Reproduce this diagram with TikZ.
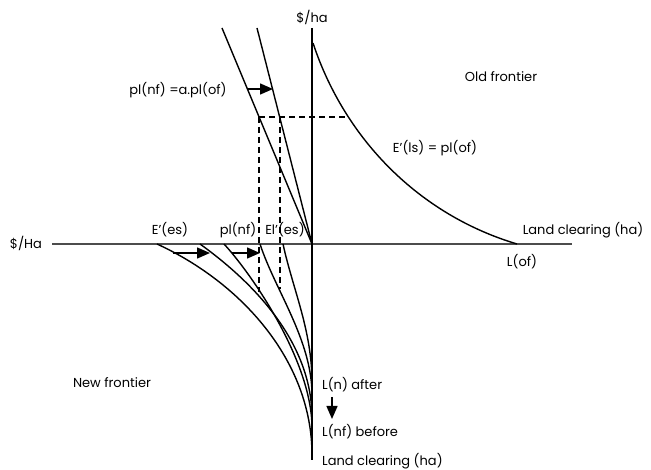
\documentclass[tikz,border=0pt]{standalone}
\usepackage{fontspec}
\setmainfont{Poppins}
\usetikzlibrary{arrows.meta}
\begin{document}
\begin{tikzpicture}[x=1pt,y=-1pt,
  font=\fontsize{13}{15}\selectfont,
  axis/.style={line width=1.5pt, draw=black!70},
  curve/.style={line width=1.4pt},
  guide/.style={line width=1.1pt, dash pattern=on 6pt off 4pt},
  shiftarrow/.style={line width=1.4pt, -{Triangle[length=13pt,width=11pt]}},
  lbl/.style={inner sep=0pt}]
\useasboundingbox (0,0) rectangle (651,470);
% axes
\coordinate (O) at (312,244);
\coordinate (ytop) at (312,28);
\coordinate (ybot) at (312,460);
\coordinate (xl) at (52,244);
\coordinate (xr) at (572,244);
\draw[axis] (xl) -- (xr);
\draw[axis, draw=black] (ytop) -- (ybot);
% upper straight lines
\coordinate (l1) at (222,28);
\coordinate (l2) at (257,28);
\draw[curve] (l1) -- (O);
\draw[curve] (l2) -- (O);
% old frontier curve
\coordinate (of0) at (313,43);
\coordinate (of1) at (517,244);
\draw[curve] (of0) .. controls (345,140) and (420,215) .. (of1);
% dashed guides
\coordinate (g1) at (259,117);
\coordinate (g2) at (280,117);
\coordinate (g3) at (347,117);
\coordinate (g1b) at (259,292);
\coordinate (g2b) at (280,289);
\draw[guide] (g1) -- (g3);
\draw[guide] (g1) -- (g1b);
\draw[guide] (g2) -- (g2b);
% lower curves
\draw[curve] (157,244) .. controls (240,282) and (312,360) .. (312,455);
\draw[curve] (200,244) .. controls (250,280) and (312,340) .. (312,418);
\draw[curve] (224,244) .. controls (250,272) and (312,360) .. (312,428);
\draw[curve] (260,244) .. controls (275,290) and (312,340) .. (312,395);
\draw[curve] (283,244) .. controls (293,290) and (312,330) .. (312,383);
% shift arrows
\coordinate (a1s) at (247,89);  \coordinate (a1e) at (273,89);
\coordinate (a2s) at (173,253); \coordinate (a2e) at (210,253);
\coordinate (a3s) at (232,253); \coordinate (a3e) at (260,253);
\coordinate (a4s) at (332,397); \coordinate (a4e) at (332,419);
\draw[shiftarrow] (a1s) -- (a1e);
\draw[shiftarrow] (a2s) -- (a2e);
\draw[shiftarrow] (a3s) -- (a3e);
\draw[shiftarrow] (a4s) -- (a4e);
% labels
\node[lbl] (tya) at (312,17) {\$/ha};
\node[lbl] (txa) at (26,243) {\$/Ha};
\node[lbl] (told) at (501,77) {Old frontier};
\node[lbl] (tpl) at (178,90) {pl(nf) =a.pl(of)};
\node[lbl] (tels) at (435,148) {E’(ls) = pl(of)};
\node[lbl] (tlc1) at (583,230) {Land clearing (ha)};
\node[lbl] (tlof) at (522,262) {L(of)};
\node[lbl] (tes) at (170,230) {E’(es)};
\node[lbl] (tplnf) at (238,230) {pl(nf)};
\node[lbl] (tel) at (285,230) {El’(es)};
\node[lbl] (tnew) at (112,383) {New frontier};
\node[lbl, anchor=west] (tlna) at (322,385) {L(n) after};
\node[lbl, anchor=west] (tlnb) at (322,432) {L(nf) before};
\node[lbl, anchor=west] (tlc2) at (322,461) {Land clearing (ha)};
\end{tikzpicture}
\end{document}
